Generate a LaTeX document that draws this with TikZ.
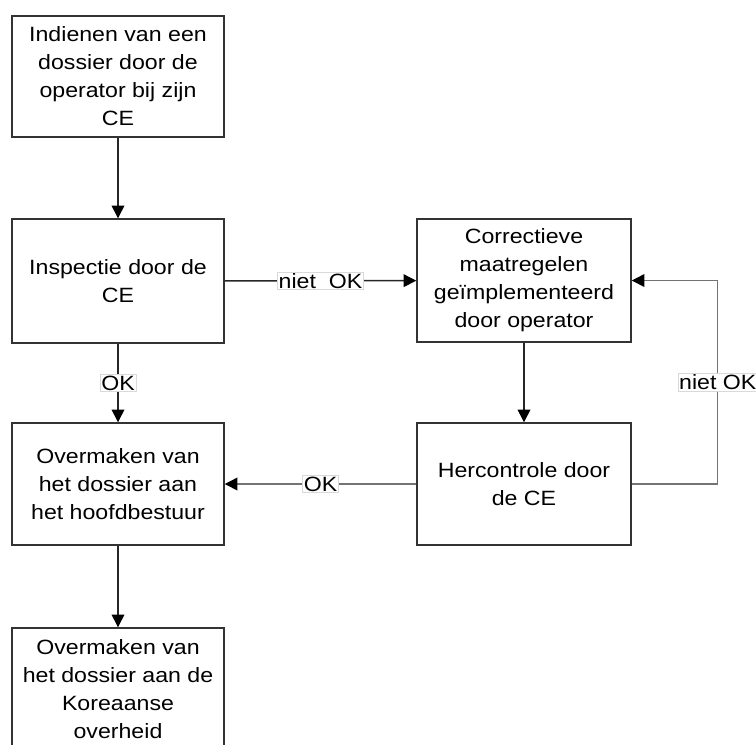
\documentclass[tikz,border=0pt]{standalone}
\usepackage{fontspec}
\setmainfont{Liberation Sans}[FakeStretch=1.12]
\usetikzlibrary{arrows.meta}
\tikzset{
  stap/.style={draw=black!80, line width=1.1pt, minimum width=212*0.75pt,
    align=center, font=\fontsize{15.5pt}{21pt}\selectfont, inner sep=2pt},
  pijl/.style={draw=black!85, line width=1.1pt,
    -{Triangle[length=9.5pt,width=9.5pt,color=black]}},
  label/.style={fill=white, draw=black!15, line width=0.4pt, inner sep=1pt,
    font=\fontsize{15.5pt}{18pt}\selectfont}
}
\begin{document}
\begin{tikzpicture}[x=0.75pt,y=-0.75pt]
      \useasboundingbox (0,0) rectangle (756,744);
      \clip (0,0) rectangle (756,744);

      % Stappen links
      \node[stap, minimum height=121*0.75pt] (indienen) at (118,76.5)
        {Indienen van een\\dossier door de\\operator bij zijn\\CE};
      \node[stap, minimum height=124*0.75pt] (inspectie) at (118,281)
        {Inspectie door de\\CE};
      \node[stap, minimum height=122*0.75pt] (hoofdbestuur) at (118,484)
        {Overmaken van\\het dossier aan\\het hoofdbestuur};
      \node[stap, minimum height=122*0.75pt] (overheid) at (118,689)
        {Overmaken van\\het dossier aan de\\Koreaanse\\overheid};

      % Stappen rechts
      \node[stap, minimum width=214*0.75pt, minimum height=123*0.75pt] (correctie) at (524,280.5)
        {Correctieve\\maatregelen\\geïmplementeerd\\door operator};
      \node[stap, minimum width=214*0.75pt, minimum height=122*0.75pt] (hercontrole) at (524,484)
        {Hercontrole door\\de CE};

      % Verbindingen
      \draw[pijl] (indienen) -- (inspectie);
      \draw[pijl] (inspectie) -- node[label] {OK} (hoofdbestuur);
      \draw[pijl] (hoofdbestuur) -- (overheid);
      \draw[pijl] (inspectie) -- node[label] {niet~ OK} (correctie);
      \draw[pijl] (correctie) -- (hercontrole);
      \draw[pijl, draw=black!55] (hercontrole) -- node[label] {OK} (hoofdbestuur);
      \draw[pijl, draw=black!55] (hercontrole.east) -- ++(86,0)
        |- node[label, pos=0.25] {niet OK} (correctie.east);
    \end{tikzpicture}
\end{document}
